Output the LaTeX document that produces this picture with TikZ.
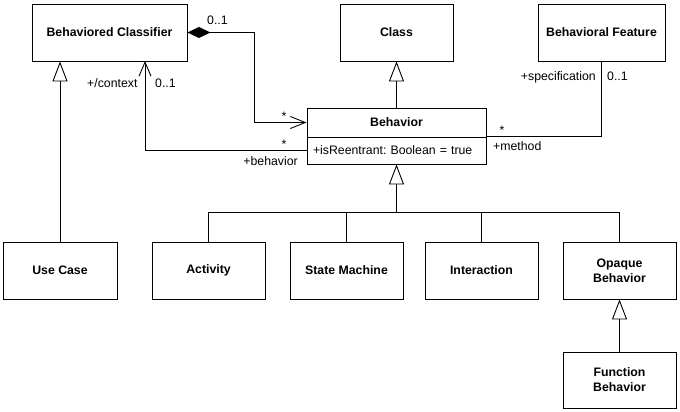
\documentclass[tikz,border=0pt]{standalone}
\usepackage{fontspec}
\setmainfont{Liberation Sans}
\frenchspacing
\usetikzlibrary{arrows.meta}
\tikzset{
	umlbox/.style={draw, line width=0.9pt, minimum height=57pt, inner sep=2pt, align=center, font=\fontsize{12.3}{15}\selectfont\bfseries},
	umlline/.style={line width=0.9pt},
	gen/.style={umlline, -{Triangle[open, length=20pt, width=15pt, line width=0.9pt]}},
	nav/.style={umlline, -{Straight Barb[length=14pt, width=12pt, line width=0.9pt]}},
	comp/.style={umlline, {Diamond[length=23pt, width=11pt]}-{Straight Barb[length=15pt, width=12pt, line width=0.9pt]}},
	role/.style={font=\fontsize{12.3}{14}\selectfont, inner sep=0pt},
}

\begin{document}
\begin{tikzpicture}[x=1pt, y=-1pt]
			%%%%% START %%%%%
			\useasboundingbox (0, 0) rectangle (680, 412);
			
			\node[umlbox, minimum width=155pt] (bc) at (109.5, 32.5) {Behaviored Classifier};
			\node[umlbox, minimum width=113pt] (cls) at (396.5, 32.5) {Class};
			\node[umlbox, minimum width=127pt] (bf) at (601.5, 32.5) {Behavioral Feature};
			
			\node[umlbox, minimum width=179pt, minimum height=29pt] (beh) at (396.5, 122.5) {Behavior};
			\node[umlbox, font=\fontsize{12.3}{14}\selectfont, minimum height=27pt, text width=167pt, inner xsep=6pt, align=left] (behattr) at (396.5, 150.5) {+isReentrant: Boolean = true};
			
			\node[umlbox, minimum width=114pt] (uc) at (60, 270.5) {Use Case};
			\node[umlbox, minimum width=113pt] (act) at (208.5, 270.5) {Activity};
			\node[umlbox, minimum width=113pt] (sm) at (346.5, 270.5) {State Machine};
			\node[umlbox, minimum width=113pt] (inter) at (481.5, 270.5) {Interaction};
			\node[umlbox, minimum width=113pt] (opq) at (619.5, 270.5) {Opaque\\Behavior};
			\node[umlbox, minimum width=113pt, minimum height=56pt] (fb) at (619.5, 380) {Function\\Behavior};
			
			% generalizations
			\coordinate (bus) at (396.5, 212);
			\draw[gen] (bus) -- (behattr.south);
			\draw[umlline] (act.north) -- (act.north |- bus) -- (opq.north |- bus) -- (opq.north);
			\draw[umlline] (sm.north) -- (sm.north |- bus);
			\draw[umlline] (inter.north) -- (inter.north |- bus);
			\draw[gen] (uc.north) -- (uc.north |- bc.south);
			\draw[gen] (fb.north) -- (opq.south);
			\draw[gen] (beh.north) -- (cls.south);
			
			% associations
			\draw[comp] (bc.east) -- ++(67, 0) |- (beh.west);
			\coordinate (ctx) at (145, 61);
			\draw[nav] (behattr.west) -| (ctx);
			\draw[umlline] (bf.south) |- (behattr.north east);
			
			% role names and multiplicities
			\node[role, anchor=base west] (m1) at (207, 25) {0..1};
			\node[role, anchor=base] (m2) at (284, 121) {*};
			\node[role, anchor=base west] (r1) at (87, 88) {+/context};
			\node[role, anchor=base west] (m3) at (155, 88) {0..1};
			\node[role, anchor=base] (m4) at (284, 148) {*};
			\node[role, anchor=base east] (r2) at (298, 165) {+behavior};
			\node[role, anchor=base east] (r3) at (596, 81) {+specification};
			\node[role, anchor=base west] (m5) at (607, 81) {0..1};
			\node[role, anchor=base] (m6) at (502, 134) {*};
			\node[role, anchor=base west] (r4) at (493, 150) {+method};
			
			%%%%% END %%%%%
\end{tikzpicture}
\end{document}
